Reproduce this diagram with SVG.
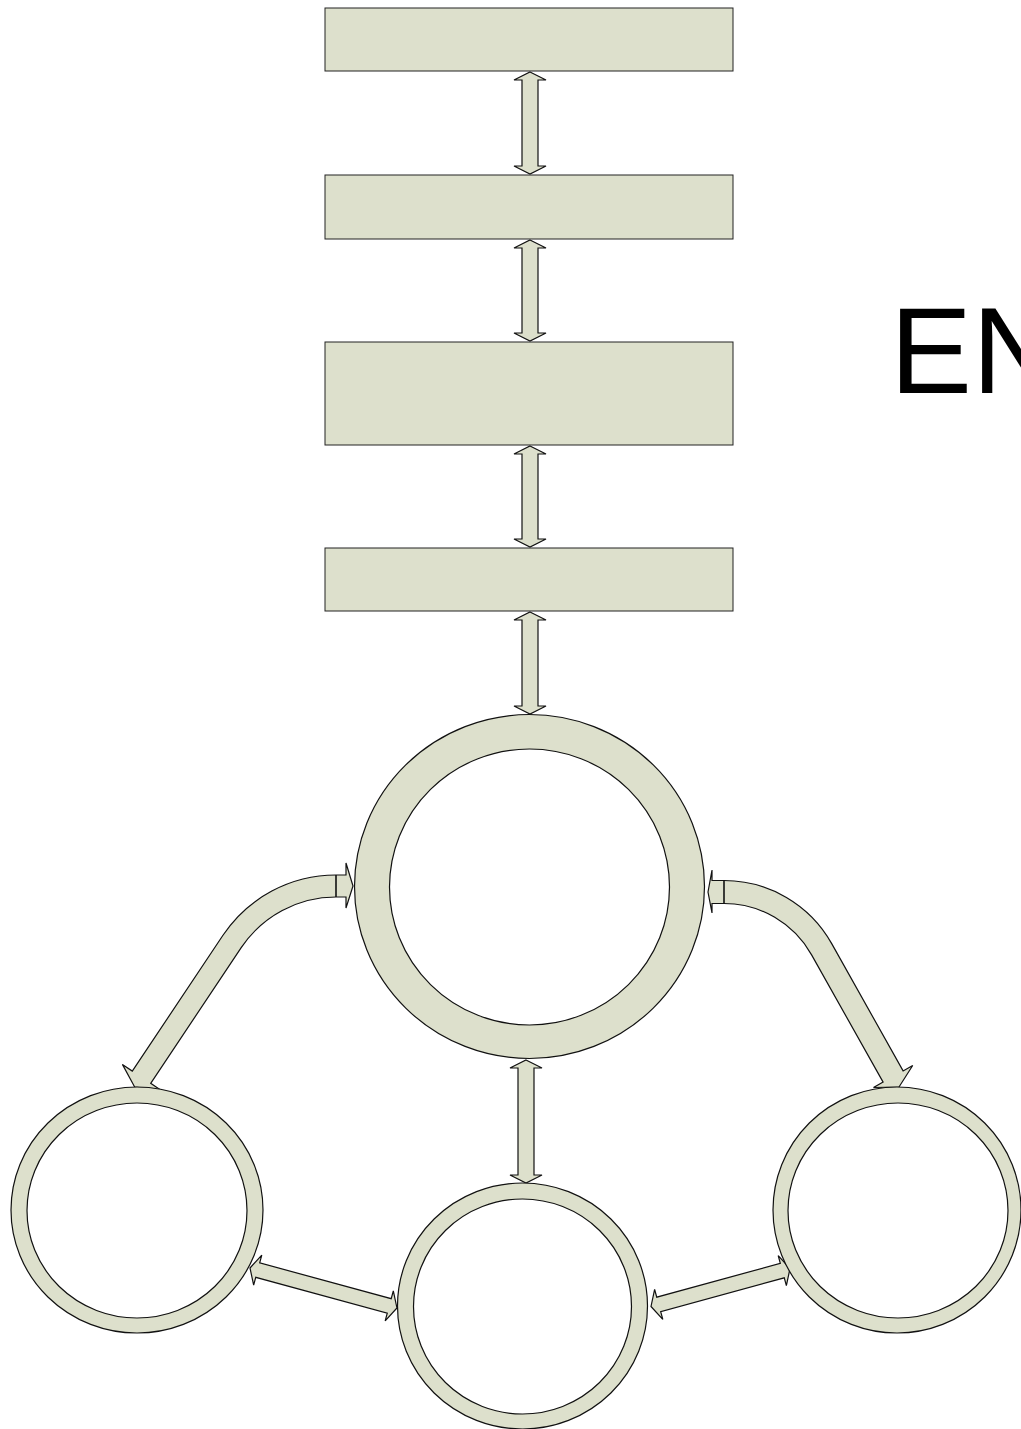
<svg xmlns="http://www.w3.org/2000/svg" width="1021" height="1429" viewBox="0 0 1021 1429">
  <style>
    .box { fill: #dde0cc; stroke: #222; stroke-width: 1; }
    .ring { fill: #dde0cc; stroke: #111; stroke-width: 1.2; }
    .hole { fill: #ffffff; stroke: #111; stroke-width: 1.2; }
    .arrow { fill: #dde0cc; stroke: #111; stroke-width: 1.2; stroke-linejoin: miter; }
    .sep { fill: none; stroke: #111; stroke-width: 1.6; }
    .title { font-family: "Liberation Sans", Arial, sans-serif; font-size: 123px; fill: #000; }
  </style>
  <rect width="1021" height="1429" fill="#ffffff"/>

  <!-- connectors drawn first so the rings cover the arrow tips -->
  <g id="connectors">
    <!-- vertical double arrows down the stack -->
    <path class="arrow" d="M530,72 L546,80 L538,80 L538,166 L546,166 L530,174 L514,166 L522,166 L522,80 L514,80 Z"/>
    <path class="arrow" d="M530,240 L546,248 L538,248 L538,333 L546,333 L530,341 L514,333 L522,333 L522,248 L514,248 Z"/>
    <path class="arrow" d="M530,446 L546,454 L538,454 L538,539 L546,539 L530,547 L514,539 L522,539 L522,454 L514,454 Z"/>
    <path class="arrow" d="M530,612 L546,620 L538,620 L538,706 L546,706 L530,714 L514,706 L522,706 L522,620 L514,620 Z"/>
    <path class="arrow" d="M526,1060 L542,1068 L534,1068 L534,1175 L542,1175 L526,1183 L510,1175 L518,1175 L518,1068 L510,1068 Z"/>

    <!-- curved arrow, hub to left ring -->
    <path class="arrow" d="M353,886 L346,863 L346,875 L336,875 A136,136 0 0 0 222.8,935.5 L132.3,1071.1 L122.4,1064.4 L134.8,1087.2 L160.6,1090 L150.7,1083.3 L241.2,947.7 A114,114 0 0 1 336,897 L346,897 L346,908 Z"/>
    <path class="sep" d="M336,875 L336,897"/>

    <!-- curved arrow, hub to right ring -->
    <path class="arrow" d="M708,892 L712,870 L712,880.5 L724,880.5 A123.5,123.5 0 0 1 831.7,943.6 L903.1,1070.9 L912.7,1065.5 L899,1087 L873.5,1087.5 L883.1,1082.1 L811.6,954.9 A100.5,100.5 0 0 0 724,903.5 L712,903.5 L712,913 Z"/>
    <path class="sep" d="M724,880.5 L724,903.5"/>

    <!-- lower double arrows between the small rings -->
    <path class="arrow" transform="translate(250,1268) rotate(15.22)" d="M0,0 L8,-15.5 L8,-7.5 L144.3,-7.5 L144.3,-15.5 L152.3,0 L144.3,15.5 L144.3,7.5 L8,7.5 L8,15.5 Z"/>
    <path class="arrow" transform="translate(651,1306.5) rotate(-15.29)" d="M0,0 L8,-15.5 L8,-7.5 L136.1,-7.5 L136.1,-15.5 L144.1,0 L136.1,15.5 L136.1,7.5 L8,7.5 L8,15.5 Z"/>
  </g>

  <!-- stacked boxes -->
  <g id="box1"><rect class="box" x="325" y="8" width="408" height="63"/></g>
  <g id="box2"><rect class="box" x="325" y="175" width="408" height="64"/></g>
  <g id="box3"><rect class="box" x="325" y="342" width="408" height="103"/></g>
  <g id="box4"><rect class="box" x="325" y="548" width="408" height="63"/></g>

  <!-- hub ring -->
  <g id="hub">
    <ellipse class="ring" cx="529.5" cy="886.5" rx="175" ry="172"/>
    <ellipse class="hole" cx="529.5" cy="887" rx="140" ry="138"/>
  </g>

  <!-- small rings -->
  <g id="ring-left">
    <ellipse class="ring" cx="137" cy="1210" rx="126" ry="123"/>
    <ellipse class="hole" cx="137" cy="1210.5" rx="110" ry="107.5"/>
  </g>
  <g id="ring-middle">
    <ellipse class="ring" cx="522.5" cy="1306" rx="125" ry="123"/>
    <ellipse class="hole" cx="522.5" cy="1306.5" rx="109" ry="107.5"/>
  </g>
  <g id="ring-right">
    <ellipse class="ring" cx="897" cy="1210" rx="124" ry="123"/>
    <ellipse class="hole" cx="898" cy="1210.5" rx="110" ry="107.5"/>
  </g>

  <text class="title" x="890" y="393">EN</text>
</svg>
